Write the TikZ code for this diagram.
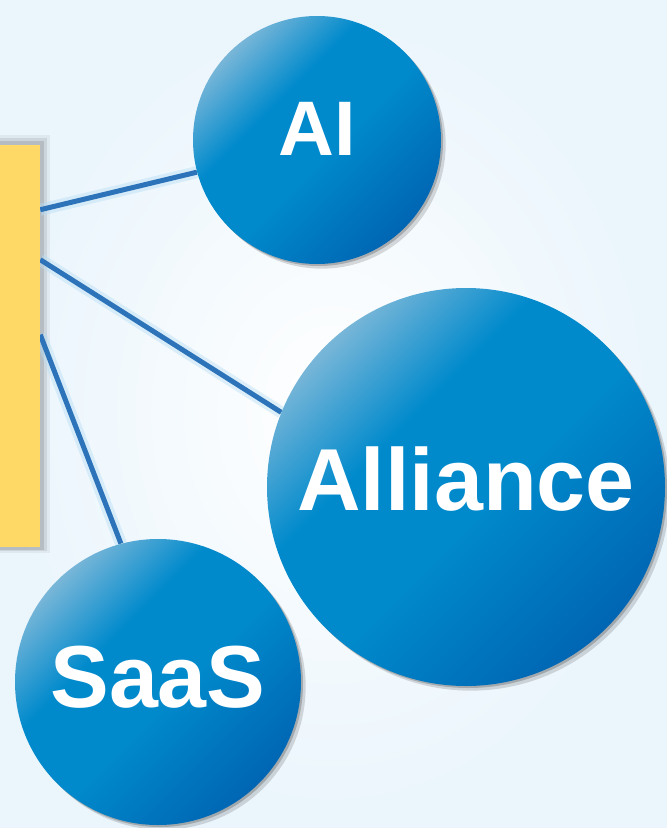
\documentclass[tikz,border=0pt]{standalone}
\usepackage{fontspec}
\newfontfamily\ballfont{Liberation Sans}
\usetikzlibrary{calc,shadows}

\definecolor{bgblue}{RGB}{234,245,252}
\definecolor{coreyellow}{RGB}{255,217,102}
\definecolor{linkblue}{RGB}{45,115,185}
\definecolor{glowblue}{RGB}{185,222,245}
\definecolor{ballhi}{RGB}{120,182,216}
\definecolor{ballmid}{RGB}{0,138,204}
\definecolor{balllo}{RGB}{0,100,178}

\pgfdeclareverticalshading{ballshade}{100bp}{color(0bp)=(balllo); color(24bp)=(balllo); color(47bp)=(ballmid); color(61bp)=(ballmid); color(75bp)=(ballhi); color(100bp)=(ballhi)}

\pgfdeclarelayer{bg}
\pgfdeclarelayer{lines}
\pgfsetlayers{bg,lines,main}

\tikzset{
  corebox/.style={fill=coreyellow, inner sep=0pt},
  ball/.style={circle, inner sep=0pt, shading=ballshade, shading angle=45,
    drop shadow={shadow xshift=1.5pt, shadow yshift=-1.5pt, fill=black, opacity=0.2},
    drop shadow={shadow xshift=3.5pt, shadow yshift=-3.5pt, fill=black, opacity=0.14}},
  balltext/.style={text=white, anchor=base, inner sep=0pt},
  link/.style={draw=linkblue, line width=3.75pt},
  glow/.style={draw=glowblue, line width=9pt, opacity=0.45},
}

\begin{document}
\begin{tikzpicture}[x=0.75pt,y=0.75pt,yscale=-1,xscale=1]
\useasboundingbox (0,0) rectangle (667,828);

% background
\begin{pgfonlayer}{bg}
\shade[inner color=white, outer color=bgblue] (0,0) rectangle (667,828);
\end{pgfonlayer}

%Shape: Rectangle [core]
\node[corebox, minimum width=45pt, minimum height=301.5pt] (core) at (10,346) {};
\begin{pgfonlayer}{bg}
\foreach \d/\o in {10/0.05,7/0.08,4/0.11}
  \fill[black, opacity=\o] ($(core.north west)+(-\d,-\d)$) rectangle ($(core.south east)+(\d,0.6*\d)$);
\end{pgfonlayer}

%Shape: Circles
\node[ball, minimum size=186pt] (ai) at (317,140) {};
\node[ball, minimum size=298.5pt] (alliance) at (466,487) {};
\node[ball, minimum size=214.5pt] (saas) at (158,682) {};

% Text Node
\node[balltext, font=\ballfont\bfseries\fontsize{58}{58}\selectfont] (ailbl) at ($(ai.center)+(0,15)$) {AI};
% Text Node
\node[balltext, font=\ballfont\bfseries\fontsize{66}{66}\selectfont] (alliancelbl) at ($(alliance.center)+(0,23)$) {Alliance};
% Text Node
\node[balltext, font=\ballfont\bfseries\fontsize{66}{66}\selectfont] (saaslbl) at ($(saas.center)+(0,25)$) {SaaS};

%Straight Lines
\coordinate (p1) at ($(core.north east)+(0,65)$);
\coordinate (p2) at ($(core.north east)+(0,115)$);
\coordinate (p3) at ($(core.north east)+(0,190)$);
\begin{pgfonlayer}{lines}
\foreach \a/\b in {p1/ai.195,p2/alliance.158,p3/saas.105}
  \draw[glow] (\a) -- (\b);
\foreach \a/\b in {p1/ai.195,p2/alliance.158,p3/saas.105}
  \draw[link] (\a) -- (\b);
\end{pgfonlayer}

\end{tikzpicture}
\end{document}
